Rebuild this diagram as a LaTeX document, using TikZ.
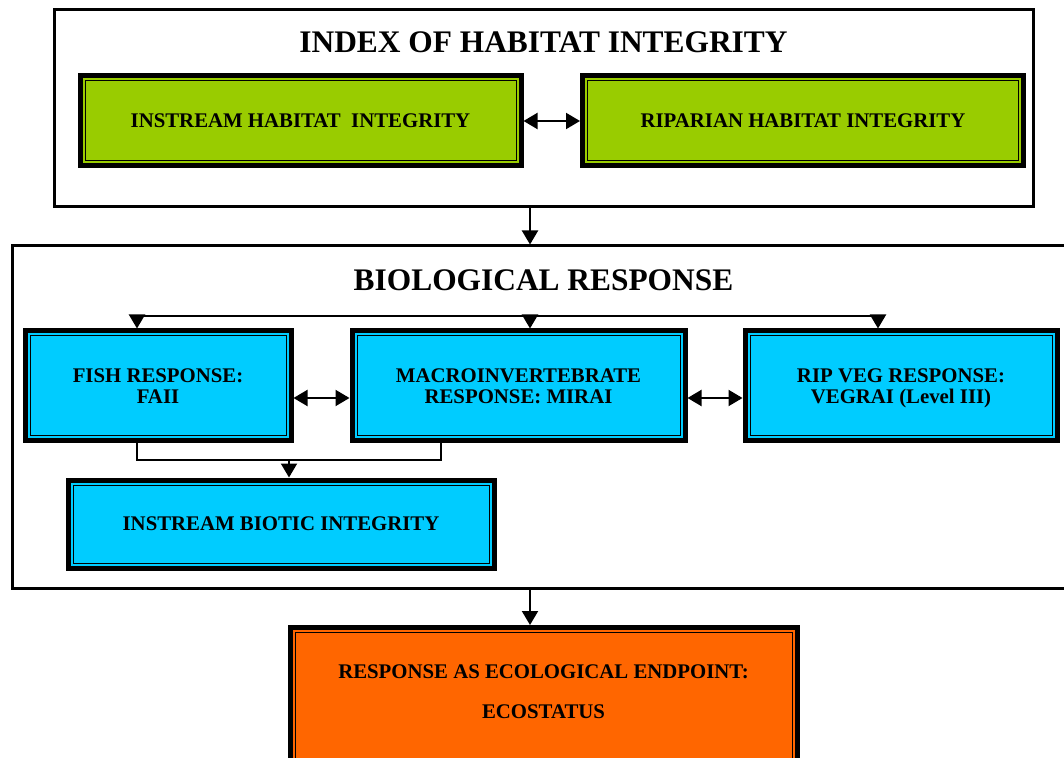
\documentclass[tikz,border=0pt]{standalone}
\usepackage{fontspec}
\setmainfont{Liberation Serif}
\usetikzlibrary{arrows.meta}
\definecolor{habgreen}{HTML}{99CC00}
\definecolor{bioblue}{HTML}{00CCFF}
\definecolor{ecoorange}{HTML}{FF6600}
\begin{document}
\begin{tikzpicture}[x=0.5pt,y=-0.5pt,
    container/.style={draw, line width=1.5pt, fill=white, inner sep=0pt},
    title/.style={font=\bfseries\fontsize{15.7}{18}\selectfont, inner sep=0pt},
    inbox/.style={draw, line width=2.5pt, inner sep=0pt, align=center,
        font=\bfseries\fontsize{10.4}{10.5}\selectfont,
        path picture={\draw[line width=0.5pt]
            ([shift={(2.5pt,2.5pt)}]path picture bounding box.south west) rectangle
            ([shift={(-2.5pt,-2.5pt)}]path picture bounding box.north east);}},
    greenbox/.style={inbox, fill=habgreen, minimum width=220.5pt, minimum height=45pt},
    bluebox/.style={inbox, fill=bioblue, minimum height=55pt},
    conn/.style={line width=1pt, -{Triangle[length=7pt,width=8pt]}},
    biconn/.style={line width=1pt, {Triangle[length=7pt,width=8pt]}-{Triangle[length=7pt,width=8pt]}},
    wire/.style={line width=0.8pt}]
    \useasboundingbox (0,0) rectangle (1064,758);
    \clip (0,0) rectangle (1064,758);
    % index of habitat integrity
    \node [container, minimum width=489.5pt, minimum height=98.5pt] (habitat) at (543.5,108.5) {};
    \node [title] (habtitle) at (543.5,42) {INDEX OF HABITAT INTEGRITY};
    \node [greenbox] (instream) at (300.5,121) {INSTREAM HABITAT\ \ INTEGRITY};
    \node [greenbox] (riparian) at (803,121) {RIPARIAN HABITAT INTEGRITY};
    \draw [biconn] (instream.east) -- (riparian.west);
    % biological response
    \node [container, minimum width=534pt, minimum height=171pt] (bio) at (546,417) {};
    \node [title] (biotitle) at (543.5,280) {BIOLOGICAL RESPONSE};
    \node [bluebox, minimum width=133pt] (fish) at (158,386) {FISH RESPONSE:\\FAII};
    \node [bluebox, minimum width=166.5pt] (macro) at (518.5,386) {MACROINVERTEBRATE\\RESPONSE: MIRAI};
    \node [bluebox, minimum width=156pt] (ripveg) at (901,386) {RIP VEG RESPONSE:\\VEGRAI \smash{(Level III)}};
    \node [bluebox, minimum width=213pt, minimum height=44pt] (biotic) at (281,524) {INSTREAM BIOTIC INTEGRITY};
    \coordinate (tapL) at (137,316);
    \coordinate (tapM) at (530,316);
    \coordinate (tapR) at (878,316);
    \coordinate (join) at (289,460);
    \coordinate (tapB) at (441,460);
    \draw [conn] (habitat.south -| tapM) -- (bio.north -| tapM);
    \draw [wire] (tapL) -- (tapR);
    \draw [conn] (tapL) -- (tapL |- fish.north);
    \draw [conn] (tapM) -- (tapM |- macro.north);
    \draw [conn] (tapR) -- (tapR |- ripveg.north);
    \draw [biconn] ([yshift=-6pt]fish.east) -- ([yshift=-6pt]macro.west);
    \draw [biconn] ([yshift=-6pt]macro.east) -- ([yshift=-6pt]ripveg.west);
    \draw [wire] (fish.south -| tapL) |- (tapB) -- (tapB |- macro.south);
    \draw [conn] (join) -- (biotic.north -| join);
    % ecological endpoint
    \node [inbox, fill=ecoorange, anchor=north, minimum width=253.5pt, minimum height=85pt,
        font=\bfseries\fontsize{10.4}{20}\selectfont, text depth=21pt] (eco) at (543.5,625)
        {RESPONSE AS ECOLOGICAL ENDPOINT:\\ECOSTATUS};
    \draw [conn] (bio.south -| tapM) -- (eco.north -| tapM);
\end{tikzpicture}
\end{document}
